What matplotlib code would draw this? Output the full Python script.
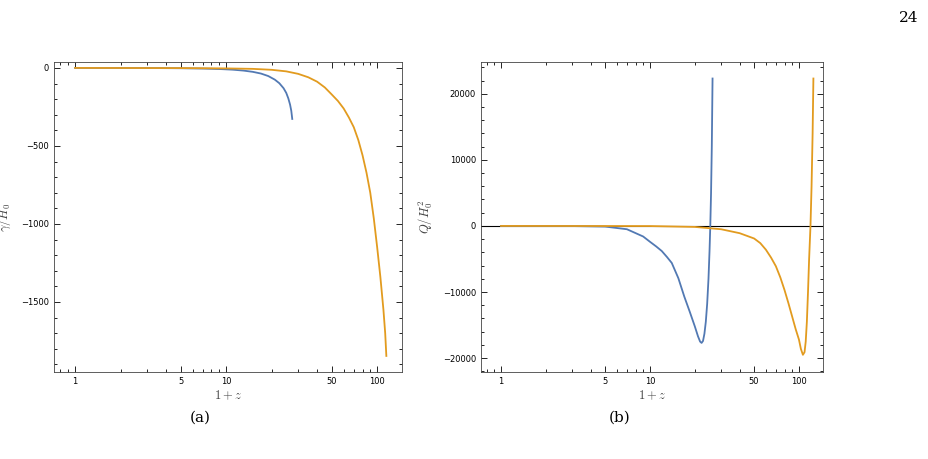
import matplotlib
matplotlib.use("Agg")
import matplotlib.pyplot as plt
from matplotlib.ticker import FixedLocator, NullFormatter, FixedFormatter
import numpy as np

plt.rcParams['mathtext.fontset'] = 'cm'

blue = '#5279b3'
orange = '#e29b1f'

x_gamma_blue = [1, 3, 5, 7, 9, 11, 13, 15, 17, 19, 21, 22.5, 24, 25, 25.8, 26.5, 27, 27.4]
gamma_blue = [0, -0.5, -2, -4, -7, -11, -17, -25, -36, -52, -75, -98, -130, -160, -195, -235, -275, -327]
x_gamma_orange = [1, 5, 10, 15, 20, 25, 30, 35, 40, 45, 50, 55, 60, 65, 70, 75, 80, 85, 90, 95, 100, 105, 110, 113, 115]
gamma_orange = [0, -1, -3, -6, -12, -22, -38, -60, -88, -125, -170, -212, -260, -318, -380, -462, -560, -672, -800, -965, -1150, -1340, -1550, -1700, -1846]

x_q_blue = [1, 3, 5, 7, 9, 10, 11, 12, 13, 14, 15.5, 17, 18.5, 20, 21, 21.7, 22.2, 22.7, 23.2, 23.7, 24.2, 24.7, 25.1, 25.4, 25.7, 26, 26.3]
q_blue = [0, -20, -100, -500, -1600, -2400, -3100, -3800, -4700, -5600, -7900, -10700, -13000, -15200, -16700, -17500, -17700, -17400, -16300, -14500, -11800, -8000, -3800, 0, 5000, 12000, 22300]
x_q_orange = [1, 10, 20, 30, 40, 50, 55, 60, 65, 70, 75, 80, 85, 90, 95, 100, 103, 106.3, 109, 111, 113, 115, 117, 119.5, 121.5, 123.5, 125]
q_orange = [0, -20, -150, -500, -1100, -1900, -2600, -3600, -4800, -6100, -7800, -9700, -11700, -13700, -15600, -17200, -18600, -19500, -19100, -17500, -14500, -10000, -5000, 0, 6000, 14000, 22300]

fig = plt.figure(figsize=(9.29, 4.59), dpi=100)
W, H = 929, 459
ax1 = fig.add_axes([54/W, 1-372/H, 348/W, 310/H])
ax2 = fig.add_axes([481/W, 1-372/H, 342/W, 310/H])

def style(ax):
    ax.set_xscale('log')
    ax.xaxis.set_major_locator(FixedLocator([1, 5, 10, 50, 100]))
    ax.xaxis.set_major_formatter(FixedFormatter(['1', '5', '10', '50', '100']))
    minors = [m * 10**e for e in range(-1, 3) for m in range(1, 10)]
    ax.xaxis.set_minor_locator(FixedLocator(minors))
    ax.xaxis.set_minor_formatter(NullFormatter())
    ax.tick_params(which='both', direction='in', top=True, right=True, labelsize=6, width=0.6)
    ax.tick_params(which='major', length=4)
    ax.tick_params(which='minor', length=2)
    for s in ax.spines.values():
        s.set_linewidth(0.6)
        s.set_color('#444444')
    ax.set_xlabel(r'$1+z$', fontsize=9, color='#444444', labelpad=2)

ax1.plot(x_gamma_blue, gamma_blue, color=blue, lw=1.3)
ax1.plot(x_gamma_orange, gamma_orange, color=orange, lw=1.3)
style(ax1)
ax1.set_xlim(0.725, 146)
ax1.set_ylim(-1949, 38)
ax1.set_yticks([0, -500, -1000, -1500], ['0', '−500', '−1000', '−1500'])
ax1.set_yticks(np.arange(-1900, 1, 100), minor=True)
ax1.set_ylabel(r'$\gamma/H_0$', fontsize=9, color='#444444', labelpad=6)

ax2.axhline(0, color='black', lw=0.8)
ax2.plot(x_q_blue, q_blue, color=blue, lw=1.3)
ax2.plot(x_q_orange, q_orange, color=orange, lw=1.3)
style(ax2)
ax2.set_xlim(0.734, 145)
ax2.set_ylim(-22100, 24800)
ax2.set_yticks([20000, 10000, 0, -10000, -20000], ['20000', '10000', '0', '−10000', '−20000'])
ax2.set_yticks(np.arange(-22000, 24001, 2000), minor=True)
ax2.set_ylabel(r'$Q/H_0^2$', fontsize=9, color='#444444', labelpad=6)

fig.text(200/W, 1-418/H, '(a)', fontsize=11, ha='center', va='center', family='DejaVu Serif')
fig.text(620/W, 1-418/H, '(b)', fontsize=11, ha='center', va='center', family='DejaVu Serif')
fig.text(918/W, 1-18/H, '24', fontsize=11, ha='right', va='center', family='DejaVu Serif')

fig.savefig('out.png', dpi=100)
